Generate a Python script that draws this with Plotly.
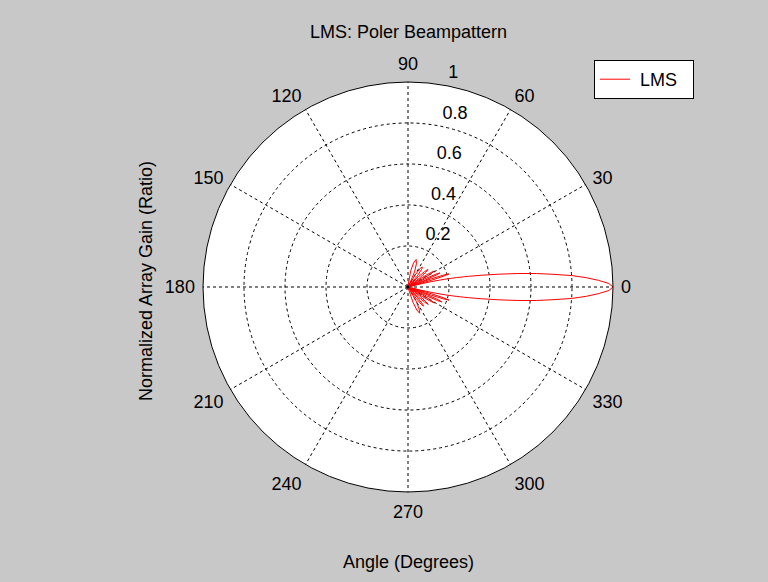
import plotly.graph_objects as go

# Beam pattern (degrees, normalized gain), -90 .. 90
theta_deg = [-90, -76, -72, -69, -66, -63, -60, -56,
             -54, -52.5, -51, -49.5, -48, -46,
             -43.9, -42.3, -40.75, -39.2, -37.6, -35.5,
             -33.8, -32.5, -31.25, -30, -28.7, -27,
             -25.7, -24.7, -23.75, -22.8, -21.8, -20.5,
             -19.4, -18.6, -17.75, -16.9, -16.1, -15,
             -14, -13, -12, -11, -10, -9, -8, -7, -6, -5, -4, -3, -2, -1, 0,
             1, 2, 3, 4, 5, 6, 7, 8, 9, 10, 11, 12, 13, 14, 15,
             16.1, 16.9, 17.75, 18.6, 19.4, 20.5,
             21.8, 22.8, 23.75, 24.7, 25.7, 27,
             28.7, 30, 31.25, 32.5, 33.8, 35.5,
             37.8, 39.5, 41.25, 43, 44.7, 47,
             50, 52.3, 54.5, 56.7, 59, 62,
             66.6, 70, 73.5, 77, 80.4, 85, 90]
gain = [0.01, 0.01, 0.08, 0.12, 0.14, 0.12, 0.08, 0.01,
        0.07, 0.11, 0.12, 0.11, 0.07, 0.01,
        0.07, 0.11, 0.13, 0.11, 0.07, 0.01,
        0.08, 0.13, 0.15, 0.13, 0.08, 0.01,
        0.10, 0.16, 0.18, 0.16, 0.10, 0.01,
        0.12, 0.18, 0.21, 0.18, 0.12, 0.01,
        0.06, 0.12, 0.18, 0.24, 0.30, 0.37, 0.45, 0.54, 0.63, 0.71, 0.80, 0.87, 0.93, 0.98, 1.00,
        0.98, 0.93, 0.87, 0.80, 0.71, 0.63, 0.54, 0.45, 0.37, 0.30, 0.24, 0.18, 0.12, 0.06, 0.01,
        0.12, 0.18, 0.21, 0.18, 0.12, 0.01,
        0.09, 0.15, 0.17, 0.15, 0.09, 0.01,
        0.08, 0.13, 0.15, 0.13, 0.08, 0.01,
        0.07, 0.11, 0.13, 0.11, 0.07, 0.01,
        0.07, 0.11, 0.12, 0.11, 0.07, 0.01,
        0.08, 0.12, 0.14, 0.12, 0.08, 0.01, 0.01]

angle_ticks = [0, 30, 60, 90, 120, 150, 180, 210, 240, 270, 300, 330]
radial_ticks = [0.2, 0.4, 0.6, 0.8, 1]
radial_labels = ["0.2", "0.4", "0.6", "0.8", "1"]

FONT = "Liberation Sans, Arial, sans-serif"
FS = 18
LABEL_SHIFT = 0.08   # MATLAB draws radial labels slightly outward of their rings
OVER = 1.1           # overlay subplot extends radius so the "1" label fits

fig = go.Figure()
fig.add_trace(go.Scatterpolar(
    r=gain, theta=theta_deg, mode="lines", name="&nbsp;LMS&nbsp;&nbsp;",
    line=dict(color="#ff0000", width=1), subplot="polar",
))
# empty overlay trace that only carries the radial tick labels
fig.add_trace(go.Scatterpolar(r=[], theta=[], mode="lines", showlegend=False,
                              hoverinfo="skip", subplot="polar2"))

W, H = 768, 582
cx, cy, R = 408, 287, 205
R2 = R * OVER
fig.update_layout(
    width=W, height=H,
    paper_bgcolor="#c8c8c8",
    margin=dict(l=0, r=0, t=0, b=0),
    font=dict(family=FONT, size=FS, color="#000000"),
    showlegend=True,
    legend=dict(
        x=594 / W, y=1 - 60 / H, xanchor="left", yanchor="top",
        bgcolor="#ffffff", bordercolor="#000000", borderwidth=1,
        font=dict(family=FONT, size=FS, color="#000000"),
        itemwidth=30, tracegroupgap=0,
    ),
    polar=dict(
        domain=dict(x=[(cx - R) / W, (cx + R) / W], y=[(H - cy - R) / H, (H - cy + R) / H]),
        bgcolor="#ffffff",
        angularaxis=dict(
            direction="counterclockwise", rotation=0,
            tickmode="array", tickvals=angle_ticks, ticktext=[str(t) for t in angle_ticks],
            ticks="outside", ticklen=4, tickcolor="rgba(0,0,0,0)",
            showline=True, linecolor="#000000", linewidth=1,
            showgrid=True, gridcolor="#000000", gridwidth=1, griddash="3px,3px",
            tickfont=dict(family=FONT, size=FS, color="#000000"),
        ),
        radialaxis=dict(
            range=[0, 1], angle=80,
            tickmode="array", tickvals=radial_ticks, showticklabels=False,
            ticks="", showline=False,
            showgrid=True, gridcolor="#000000", gridwidth=1, griddash="3px,3px",
        ),
    ),
    polar2=dict(
        domain=dict(x=[(cx - R2) / W, (cx + R2) / W], y=[(H - cy - R2) / H, (H - cy + R2) / H]),
        bgcolor="rgba(0,0,0,0)",
        angularaxis=dict(visible=False, direction="counterclockwise", rotation=0),
        radialaxis=dict(
            range=[0, OVER], angle=82, tickangle=82,
            tickmode="array", tickvals=[t + LABEL_SHIFT for t in radial_ticks], ticktext=radial_labels,
            ticks="", showline=False, showgrid=False,
            tickfont=dict(family=FONT, size=FS, color="#000000"),
            side="clockwise",
        ),
    ),
    annotations=[
        dict(text="LMS: Poler Beampattern", x=cx / W, y=1 - 32 / H, xref="paper", yref="paper",
             showarrow=False, font=dict(family=FONT, size=FS), xanchor="center", yanchor="middle"),
        dict(text="Angle (Degrees)", x=cx / W, y=1 - 562 / H, xref="paper", yref="paper",
             showarrow=False, font=dict(family=FONT, size=FS), xanchor="center", yanchor="middle"),
        dict(text="Normalized Array Gain (Ratio)", x=146 / W, y=1 - 281 / H, xref="paper", yref="paper",
             showarrow=False, textangle=-90, font=dict(family=FONT, size=FS),
             xanchor="center", yanchor="middle"),
    ],
)

fig.write_html("out.html", config={"displayModeBar": False},
               post_script="document.body.style.margin='0';document.body.style.overflow='hidden';")
